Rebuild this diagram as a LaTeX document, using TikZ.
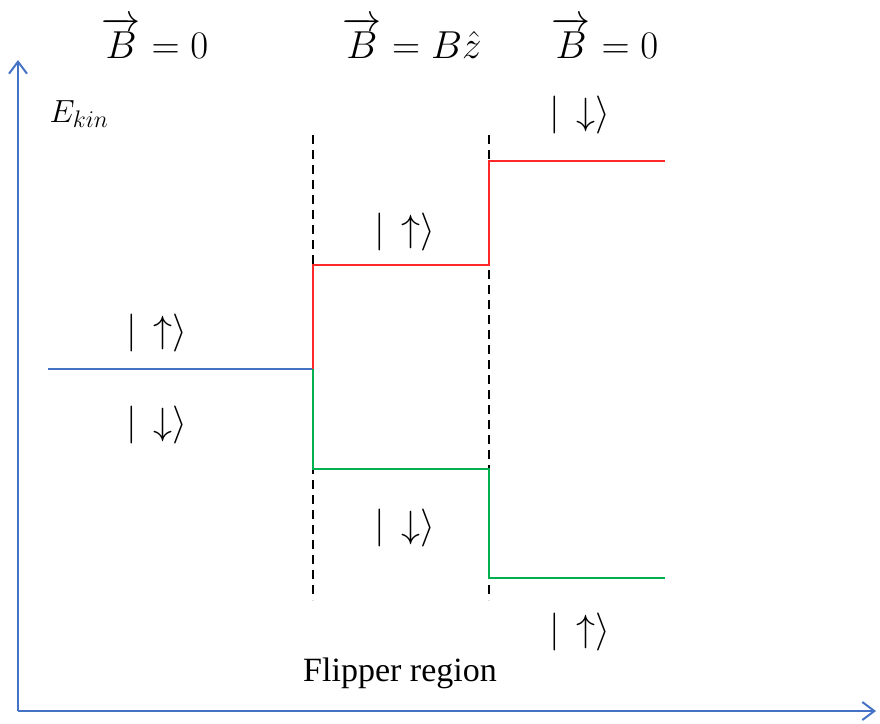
\RequirePackage{fix-cm}
\documentclass[tikz,border=0pt]{standalone}
\usepackage{amsmath}
\usepackage{fontspec}
\setmainfont{Liberation Serif}
\usetikzlibrary{arrows.meta}
\definecolor{axblue}{RGB}{68,114,196}
\definecolor{lvred}{RGB}{255,40,40}
\definecolor{lvgreen}{RGB}{0,176,80}
\begin{document}
\begin{tikzpicture}[x=1pt,y=-1pt,
  axis/.style={draw=axblue,line width=2.2pt,-{Straight Barb[length=12pt,width=18pt,line width=2pt]}},
  level/.style={line width=2.8pt},
  divider/.style={draw=black,line width=2pt,dash pattern=on 9pt off 6pt},
  lbl/.style={inner sep=0pt,font=\fontsize{39}{43}\selectfont},
  ket/.style={inner sep=0pt,font=\fontsize{38}{42}\selectfont}]
\useasboundingbox (0,0) rectangle (880,723);
% axes
\coordinate (o) at (18,711);
\coordinate (ytip) at (18,60);
\coordinate (xtip) at (876,711);
\draw[axis] (o) -- (ytip);
\draw[axis] (o) -- (xtip);
% dividers
\coordinate (d1t) at (313,135); \coordinate (d1b) at (313,600);
\coordinate (d2t) at (489,135); \coordinate (d2b) at (489,600);
\draw[divider] (d1t) -- (d1b);
\draw[divider] (d2t) -- (d2b);
% levels
\coordinate (b0) at (48,369);
\coordinate (b1) at (313,369);
\coordinate (r1) at (313,265);
\coordinate (r2) at (489,265);
\coordinate (r3) at (489,161);
\coordinate (r4) at (665,161);
\coordinate (g1) at (313,469);
\coordinate (g2) at (489,469);
\coordinate (g3) at (489,578);
\coordinate (g4) at (665,578);
\draw[level,draw=axblue] (b0) -- (b1);
\draw[level,draw=lvred] (b1) -- (r1) -- (r2) -- (r3) -- (r4);
\draw[level,draw=lvgreen] (b1) -- (g1) -- (g2) -- (g3) -- (g4);
% labels
\node[lbl] (t1) at (155,38) {$\overrightarrow{B}=0$};
\node[lbl] (t2) at (412,38) {$\overrightarrow{B}=B\hat{z}$};
\node[lbl] (t3) at (605,38) {$\overrightarrow{B}=0$};
\node[inner sep=0pt,font=\fontsize{32}{36}\selectfont] (ek) at (79,114) {$E_{\mbox{\fontsize{24}{26}\selectfont$kin$}}$};
\node[ket] (k1) at (157,333) {$|\,\uparrow\rangle$};
\node[ket] (k2) at (157,425) {$|\,\downarrow\rangle$};
\node[ket] (k3) at (405,232) {$|\,\uparrow\rangle$};
\node[ket] (k4) at (405,528) {$|\,\downarrow\rangle$};
\node[ket] (k5) at (580,115) {$|\,\downarrow\rangle$};
\node[ket] (k6) at (580,632) {$|\,\uparrow\rangle$};
\node[inner sep=0pt,font=\fontsize{34}{38}\selectfont] (fr) at (400,673) {Flipper region};
\end{tikzpicture}
\end{document}
